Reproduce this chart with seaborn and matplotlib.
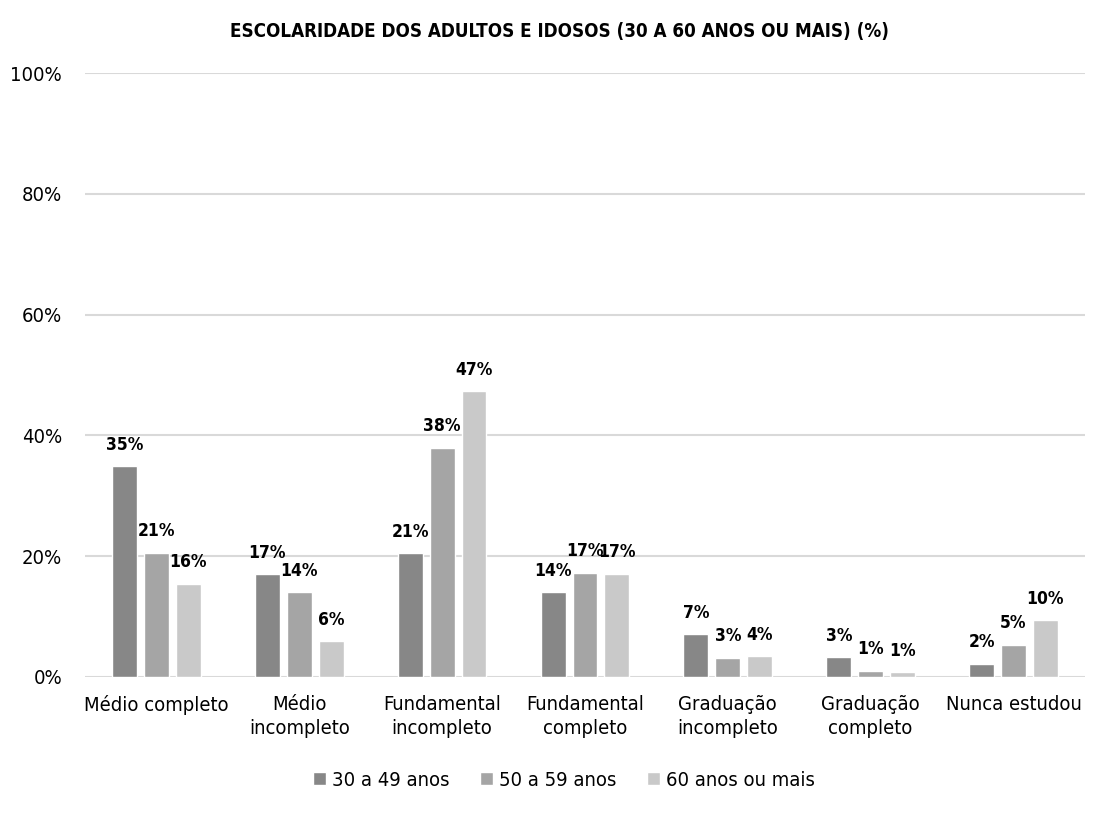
import pandas as pd
import numpy as np
import matplotlib
matplotlib.use("Agg")
import matplotlib.pyplot as plt
import seaborn as sns

categorias = ["Médio completo", "Médio\nincompleto", "Fundamental\nincompleto",
              "Fundamental\ncompleto", "Graduação\nincompleto", "Graduação\ncompleto",
              "Nunca estudou"]
series = ["30 a 49 anos", "50 a 59 anos", "60 anos ou mais"]

v_30_49 = [34.9, 17.0, 20.5, 14.0, 7.1, 3.3, 2.2]
v_50_59 = [20.6, 14.0, 38.0, 17.3, 3.2, 1.0, 5.3]
v_60 = [15.4, 5.9, 47.3, 17.1, 3.4, 0.8, 9.4]

rot_30_49 = [35, 17, 21, 14, 7, 3, 2]
rot_50_59 = [21, 14, 38, 17, 3, 1, 5]
rot_60 = [16, 6, 47, 17, 4, 1, 10]

cores = ["#878787", "#a5a5a5", "#c9c9c9"]

df = pd.DataFrame({
    "cat": categorias * 3,
    "serie": np.repeat(series, len(categorias)),
    "valor": v_30_49 + v_50_59 + v_60,
})

sns.set_style("white")
plt.rcParams["font.family"] = ["DejaVu Sans"]
plt.rcParams["font.stretch"] = "condensed"
plt.rcParams["text.color"] = "black"
plt.rcParams["xtick.color"] = "black"
plt.rcParams["ytick.color"] = "black"

fig = plt.figure(figsize=(10.97, 8.13), dpi=100)
ax = fig.add_axes([0.0775, 0.1673, 0.9115, 0.7427])

sns.barplot(data=df, x="cat", y="valor", hue="serie", palette=cores,
            width=0.67, gap=0.22, ax=ax, legend=True)

rotulos = [rot_30_49, rot_50_59, rot_60]
for cont, rot in zip(ax.containers, rotulos):
    ax.bar_label(cont, labels=["{}%".format(r) for r in rot], padding=9,
                 fontsize=12.5, fontweight="bold", color="black")

ax.set_ylim(0, 100)
ax.set_xlim(-0.5, len(categorias) - 0.5)
ax.set_yticks(range(0, 101, 20))
ax.set_yticklabels(["{}%".format(t) for t in range(0, 101, 20)], fontsize=14.5)
ax.tick_params(axis="x", labelsize=14.5, length=0, pad=13)
ax.tick_params(axis="y", length=0, pad=16.5)
for t in ax.get_xticklabels():
    t.set_linespacing(1.35)
ax.yaxis.grid(True, color="#d9d9d9", linewidth=1.5)
ax.set_axisbelow(True)
for s in ax.spines.values():
    s.set_visible(False)
ax.set_xlabel("")
ax.set_ylabel("")

ax.legend(loc="upper center", bbox_to_anchor=(0.479, -0.125), ncol=3, frameon=False,
          fontsize=14.5, handlelength=0.65, handleheight=0.65, handletextpad=0.3,
          columnspacing=1.5)

fig.suptitle("ESCOLARIDADE DOS ADULTOS E IDOSOS (30 A 60 ANOS OU MAIS) (%)",
             x=0.51, y=0.973, fontsize=13.5, fontweight="bold")

fig.savefig("out.png", dpi=100)
